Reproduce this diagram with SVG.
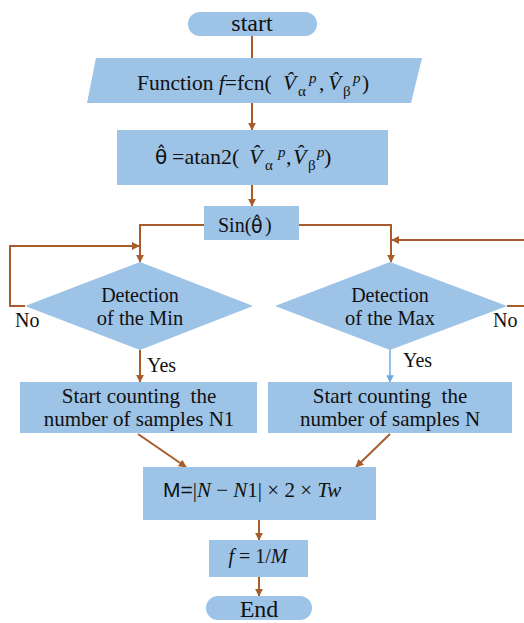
<svg xmlns="http://www.w3.org/2000/svg" width="524" height="623" viewBox="0 0 524 623">
<defs>
<marker id="ab" viewBox="0 0 10 10" refX="9" refY="5" markerWidth="4" markerHeight="4" orient="auto" markerUnits="strokeWidth"><path d="M0,0 L10,5 L0,10 z" fill="#A85B2B"/></marker>
<marker id="abl" viewBox="0 0 10 10" refX="9" refY="5" markerWidth="5" markerHeight="5" orient="auto" markerUnits="strokeWidth"><path d="M0,0 L10,5 L0,10 z" fill="#6FA8E0"/></marker>
</defs>
<style>
.n{fill:#9DC3E6;stroke:none}
.c{fill:none;stroke:#A85B2B;stroke-width:2}
.t{font-family:"Liberation Serif",serif;fill:#111}
.s{font-family:"DejaVu Sans",sans-serif}
.ls{font-family:"Liberation Sans",sans-serif}
.i{font-style:italic}
.m{text-anchor:middle}
.sb{font-size:15px}
</style>
<rect width="524" height="623" fill="#fff"/>
<g id="connectors">
<line class="c" x1="252" y1="36" x2="252" y2="58"/>
<line class="c" x1="252" y1="103" x2="252" y2="130" marker-end="url(#ab)"/>
<line class="c" x1="252" y1="185" x2="252" y2="206" marker-end="url(#ab)"/>
<polyline class="c" points="204,225 140,225 140,262" marker-end="url(#ab)"/>
<polyline class="c" points="299,225 391,225 391,262" marker-end="url(#ab)"/>
<polyline class="c" points="25,306 10,306 10,246 139,246" marker-end="url(#ab)"/>
<polyline class="c" points="507,306 527,306 527,240 392,240" marker-end="url(#ab)"/>
<line class="c" x1="140" y1="350" x2="140" y2="382" marker-end="url(#ab)"/>
<line x1="390" y1="350" x2="390" y2="382" stroke="#6FA8E0" stroke-width="1.5" marker-end="url(#abl)"/>
<line class="c" x1="138" y1="434" x2="186" y2="467" marker-end="url(#ab)"/>
<line class="c" x1="390" y1="434" x2="356" y2="467" marker-end="url(#ab)"/>
<line class="c" x1="259" y1="520" x2="259" y2="540" marker-end="url(#ab)"/>
<line class="c" x1="259" y1="577" x2="259" y2="596" marker-end="url(#ab)"/>
</g>
<g id="start">
<rect class="n" x="188" y="12" width="129" height="24" rx="12"/>
<text class="t m" x="252" y="31" font-size="24">start</text>
</g>
<g id="function">
<polygon class="n" points="96,58 422,58 411,103 87,103"/>
<text class="t" x="137" y="90" font-size="21.5">Function <tspan class="i">f</tspan>=fcn(<tspan class="i" x="283" y="90">V̂</tspan><tspan class="sb" x="298" y="96">α</tspan><tspan class="sb i" x="309" y="83">p</tspan><tspan x="319" y="90">,</tspan><tspan class="i" x="328" y="90">V̂</tspan><tspan class="sb" x="343" y="96">β</tspan><tspan class="sb i" x="353" y="83">p</tspan><tspan x="362" y="90">)</tspan></text>
</g>
<g id="atan">
<rect class="n" x="117" y="130" width="271" height="55"/>
<text class="t" x="155" y="164" font-size="22"><tspan class="s" font-size="20">θ̂</tspan><tspan x="172" y="164">=atan2(</tspan><tspan class="i" x="249" y="164">V̂</tspan><tspan class="sb" x="265" y="170">α</tspan><tspan class="sb i" x="278" y="157">p</tspan><tspan x="286" y="164">,</tspan><tspan class="i" x="293" y="164">V̂</tspan><tspan class="sb" x="308" y="170">β</tspan><tspan class="sb i" x="317" y="157">p</tspan><tspan x="324" y="164">)</tspan></text>
</g>
<g id="sin">
<rect class="n" x="204" y="206" width="95" height="34"/>
<text class="t" x="218" y="232" font-size="20">Sin(<tspan class="s" x="251" y="233" font-size="19">θ̂</tspan><tspan x="265" y="232">)</tspan></text>
</g>
<g id="detect-min">
<polygon class="n" points="140,262 253,306 140,350 25,306"/>
<text class="t m" x="140" y="302" font-size="20">Detection</text>
<text class="t m" x="140" y="325" font-size="20.5">of the Min</text>
</g>
<g id="detect-max">
<polygon class="n" points="390,262 507,306 390,350 275,306"/>
<text class="t m" x="390" y="302" font-size="20">Detection</text>
<text class="t m" x="390" y="325" font-size="20.5">of the Max</text>
</g>
<g id="labels">
<text class="t" x="15" y="327" font-size="20">No</text>
<text class="t" x="493" y="327" font-size="20">No</text>
<text class="t" x="147" y="372" font-size="20">Yes</text>
<text class="t" x="403" y="367" font-size="20">Yes</text>
</g>
<g id="count-n1">
<rect class="n" x="20" y="382" width="237" height="51"/>
<text class="t m" x="139" y="403" font-size="21" xml:space="preserve">Start counting  the</text>
<text class="t m" x="139" y="426" font-size="21">number of samples N1</text>
</g>
<g id="count-n">
<rect class="n" x="268" y="382" width="244" height="51"/>
<text class="t m" x="390" y="403" font-size="21" xml:space="preserve">Start counting  the</text>
<text class="t m" x="390" y="426" font-size="21">number of samples N</text>
</g>
<g id="compute-m">
<rect class="n" x="143" y="467" width="233" height="53"/>
<text class="t" x="163" y="497" font-size="21"><tspan class="ls">M=</tspan>|<tspan class="i">N</tspan> − <tspan class="i">N</tspan>1| × 2 × <tspan class="i">Tw</tspan></text>
</g>
<g id="compute-f">
<rect class="n" x="209" y="540" width="99" height="37"/>
<text class="t m" x="258" y="563" font-size="20"><tspan class="i">f</tspan> = 1/<tspan class="i">M</tspan></text>
</g>
<g id="end">
<rect class="n" x="206" y="596" width="106" height="24" rx="12"/>
<text class="t m" x="259" y="617" font-size="24">End</text>
</g>
</svg>
